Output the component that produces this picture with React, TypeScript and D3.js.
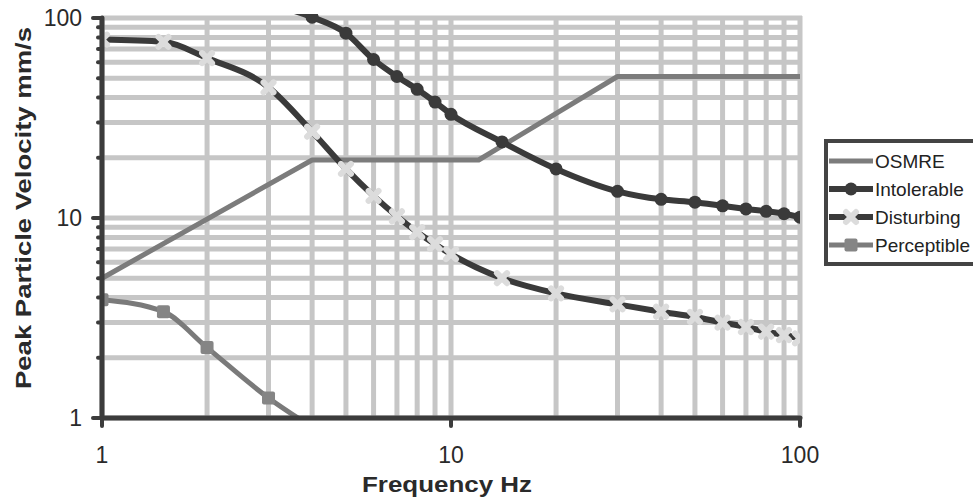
import React from 'react';
import * as d3 from 'd3';

// frequency (Hz) / peak particle velocity (mm/s)
const osmreHz = [1, 4, 12, 30, 100];
const osmreVel = [5, 19.5, 19.5, 51, 51];

const intolerableHz = [3, 4, 5, 6, 7, 8, 9, 10, 14, 20, 30, 40, 50, 60, 70, 80, 90, 100];
const intolerableVel = [118, 101, 84, 62, 51, 44, 38, 33, 24, 17.6, 13.6, 12.4, 12, 11.5, 11.1, 10.8, 10.5, 10.1];

const disturbingHz = [1, 1.5, 2, 3, 4, 5, 6, 7, 8, 9, 10, 14, 20, 30, 40, 50, 60, 70, 80, 90, 100];
const disturbingVel = [78, 76, 63, 45, 27, 17.6, 12.9, 10.2, 8.5, 7.4, 6.6, 5.0, 4.2, 3.7, 3.4, 3.2, 3.0, 2.85, 2.7, 2.6, 2.5];

const perceptibleHz = [1, 1.5, 2, 3, 4];
const perceptibleVel = [3.9, 3.4, 2.25, 1.26, 0.9];

const xTicks = [1, 10, 100];
const yTicks = [1, 10, 100];
const legendNames = ['OSMRE', 'Intolerable', 'Disturbing', 'Perceptible'];

const W = 973, H = 501;
const x = d3.scaleLog().domain([1, 100]).range([102, 800]);
const y = d3.scaleLog().domain([1, 100]).range([418, 18]);

// every 1..9 per decade
const gridVals: number[] = [];
[1, 10].forEach(dec => d3.range(1, 10).forEach(m => gridVals.push(dec * m)));
gridVals.push(100);

const smooth = d3.line<[number, number]>()
  .x(d => x(d[0]))
  .y(d => y(d[1]))
  .curve(d3.curveMonotoneX);
const straight = d3.line<[number, number]>()
  .x(d => x(d[0]))
  .y(d => y(d[1]));

const zip = (a: number[], b: number[]) => a.map((v, i) => [v, b[i]] as [number, number]);

const GRID = '#c6c6c6';
const AXIS = '#3c3c3c';
const font = 'Liberation Sans, Arial, sans-serif';

const Circle = ({ cx, cy }: { cx: number; cy: number }) =>
  <circle cx={cx} cy={cy} r={6.5} fill="#3a3a3a" />;
const Cross = ({ cx, cy }: { cx: number; cy: number }) => (
  <g stroke="#dcdcdc" strokeWidth={6} strokeLinecap="round">
    <line x1={cx - 5} y1={cy - 5} x2={cx + 5} y2={cy + 5} />
    <line x1={cx - 5} y1={cy + 5} x2={cx + 5} y2={cy - 5} />
  </g>
);
const Square = ({ cx, cy }: { cx: number; cy: number }) =>
  <rect x={cx - 6.5} y={cy - 6.5} width={13} height={13} rx={2} fill="#858585" />;

export default function App() {
  const osmre = zip(osmreHz, osmreVel);
  const intol = zip(intolerableHz, intolerableVel);
  const dist = zip(disturbingHz, disturbingVel);
  const perc = zip(perceptibleHz, perceptibleVel);

  return (
    <div style={{ position: 'fixed', left: 0, top: 0 }}>
      <svg width={W} height={H} style={{ display: 'block', background: '#fff' }}>
        <defs>
          <clipPath id="plot">
            <rect x={x(1)} y={14} width={x(100) - x(1)} height={y(1) - 14} />
          </clipPath>
        </defs>

        {/* gridlines */}
        <g stroke={GRID} strokeWidth={5}>
          {gridVals.map(v => (
            <line key={'gx' + v} x1={x(v)} x2={x(v)} y1={y(100) - 2} y2={y(1)} />
          ))}
          {gridVals.map(v => (
            <line key={'gy' + v} x1={x(1)} x2={x(100) + 2} y1={y(v)} y2={y(v)} />
          ))}
        </g>

        {/* series */}
        <g clipPath="url(#plot)" fill="none" strokeLinejoin="round">
          <path d={straight(osmre) || ''} stroke="#7c7c7c" strokeWidth={5} />
          <path d={smooth(perc) || ''} stroke="#7a7a7a" strokeWidth={5} />
          {perc.map((d, i) => <Square key={'p' + i} cx={x(d[0])} cy={y(d[1])} />)}
          <path d={smooth(intol) || ''} stroke="#3a3a3a" strokeWidth={6} />
          {intol.map((d, i) => <Circle key={'i' + i} cx={x(d[0])} cy={y(d[1])} />)}
          <path d={smooth(dist) || ''} stroke="#3a3a3a" strokeWidth={6} />
          {dist.map((d, i) => <Cross key={'d' + i} cx={x(d[0])} cy={y(d[1])} />)}
        </g>

        {/* axes */}
        <g stroke={AXIS} strokeWidth={5} strokeLinecap="round">
          <line x1={x(1)} x2={x(1)} y1={y(100)} y2={y(1)} />
          <line x1={x(1)} x2={x(100)} y1={y(1)} y2={y(1)} />
          {gridVals.map(v => (
            <line key={'ty' + v} x1={x(1) - (yTicks.includes(v) ? 9 : 4)} x2={x(1)} y1={y(v)} y2={y(v)} strokeWidth={4} />
          ))}
          {xTicks.map(v => (
            <line key={'tx' + v} x1={x(v)} x2={x(v)} y1={y(1)} y2={y(1) + 8} strokeWidth={4} />
          ))}
        </g>

        {/* tick labels */}
        <g fontFamily={font} fontSize={23} fill="#2a2a2a">
          {yTicks.map(v => (
            <text key={'ly' + v} x={82} y={y(v) + 8} textAnchor="end">{v}</text>
          ))}
          {xTicks.map(v => (
            <text key={'lx' + v} x={x(v)} y={463} textAnchor="middle">{v}</text>
          ))}
        </g>

        {/* axis titles */}
        <text x={447} y={492} textAnchor="middle" fontFamily={font} fontWeight="bold"
          fontSize={22} fill="#2a2a2a" textLength={170} lengthAdjust="spacingAndGlyphs">Frequency Hz</text>
        <text transform={`translate(31,${208}) rotate(-90)`} textAnchor="middle" fontFamily={font}
          fontWeight="bold" fontSize={22} fill="#2a2a2a" textLength={362} lengthAdjust="spacingAndGlyphs">
          Peak Particle Velocity mm/s
        </text>

        {/* legend */}
        <g>
          <rect x={826} y={141} width={170} height={123} fill="#fff" stroke="#444" strokeWidth={4} />
          {legendNames.map((name, i) => {
            const ly = 161 + i * 28;
            return (
              <g key={name}>
                <line x1={829} x2={873} y1={ly} y2={ly}
                  stroke={i === 1 || i === 2 ? '#3a3a3a' : '#7c7c7c'} strokeWidth={i === 1 || i === 2 ? 6 : 5} />
                {i === 1 && <Circle cx={851} cy={ly} />}
                {i === 2 && <Cross cx={851} cy={ly} />}
                {i === 3 && <Square cx={851} cy={ly} />}
                <text x={875} y={ly + 7} fontFamily={font} fontSize={19} fill="#222">{name}</text>
              </g>
            );
          })}
        </g>
      </svg>
    </div>
  );
}
